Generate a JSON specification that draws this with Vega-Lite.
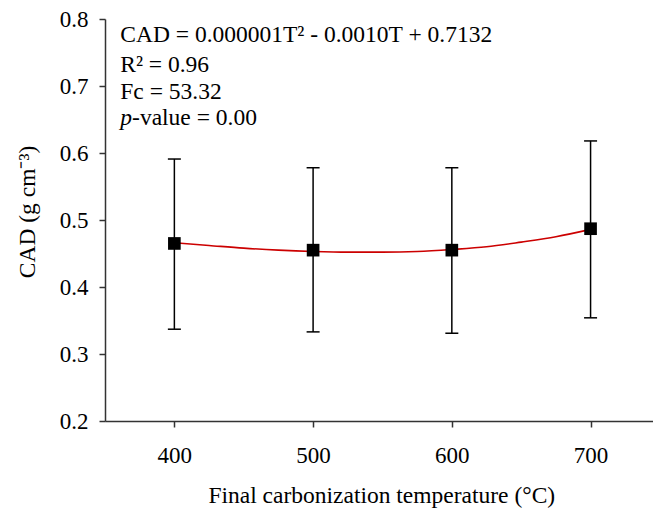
{
  "$schema": "https://vega.github.io/schema/vega-lite/v6.json",
  "autosize": {"type": "none"},
  "padding": {"left": 105, "top": 19, "right": 0, "bottom": 88},
  "width": 548,
  "height": 402,
  "background": "white",
  "config": {
    "view": {"stroke": null},
    "axis": {
      "labelFont": "Liberation Serif",
      "labelFontSize": 23,
      "labelColor": "black",
      "domainColor": "#333",
      "domainWidth": 1.5,
      "tickColor": "#333",
      "tickWidth": 1.5,
      "tickSize": 6,
      "grid": false
    }
  },
  "datasets": {
    "obs": [
      {"T": 400, "CAD": 0.465, "lo": 0.337, "hi": 0.591},
      {"T": 500, "CAD": 0.455, "lo": 0.333, "hi": 0.578},
      {"T": 600, "CAD": 0.455, "lo": 0.331, "hi": 0.578},
      {"T": 700, "CAD": 0.487, "lo": 0.354, "hi": 0.618}
    ],
    "fit": [
      {"T": 400, "CAD": 0.466},
      {"T": 425, "CAD": 0.462},
      {"T": 450, "CAD": 0.458},
      {"T": 475, "CAD": 0.455},
      {"T": 500, "CAD": 0.453},
      {"T": 525, "CAD": 0.452},
      {"T": 550, "CAD": 0.452},
      {"T": 575, "CAD": 0.453},
      {"T": 600, "CAD": 0.456},
      {"T": 625, "CAD": 0.460},
      {"T": 650, "CAD": 0.467},
      {"T": 675, "CAD": 0.475},
      {"T": 700, "CAD": 0.486}
    ],
    "notes": [
      {"T": 361, "y": 0.7657, "txt": "CAD = 0.000001T² - 0.0010T + 0.7132"},
      {"T": 361, "y": 0.7209, "txt": "R² = 0.96"},
      {"T": 361, "y": 0.6806, "txt": "Fc = 53.32"},
      {"T": 369.5, "y": 0.6418, "txt": "-value = 0.00"}
    ],
    "italic": [
      {"T": 361, "y": 0.6418, "txt": "p"}
    ],
    "xtitle": [
      {"T": 549.5, "y": 0.088, "txt": "Final carbonization temperature (°C)"}
    ],
    "ytitle": [
      {"T": 294.5, "y": 0.512, "txt": "CAD (g cm⁻³)"}
    ]
  },
  "encoding": {
    "x": {"field": "T", "type": "quantitative",
          "scale": {"domain": [350, 745], "nice": false, "zero": false},
          "axis": {"values": [400, 500, 600, 700], "title": null, "labelPadding": 17, "labelFlush": false}}
  },
  "layer": [
    {
      "data": {"name": "obs"},
      "mark": {"type": "rule", "color": "black", "strokeWidth": 1.5},
      "encoding": {
        "y": {"field": "lo", "type": "quantitative",
              "scale": {"domain": [0.2, 0.8], "nice": false, "zero": false},
              "axis": {"values": [0.2, 0.3, 0.4, 0.5, 0.6, 0.7, 0.8], "format": ".1f", "title": null, "labelPadding": 11, "labelFlush": false}},
        "y2": {"field": "hi"}
      }
    },
    {
      "data": {"name": "obs"},
      "mark": {"type": "tick", "orient": "horizontal", "color": "black", "size": 13, "thickness": 1.5, "opacity": 1},
      "encoding": {
        "y": {"field": "lo", "type": "quantitative"}
      }
    },
    {
      "data": {"name": "obs"},
      "mark": {"type": "tick", "orient": "horizontal", "color": "black", "size": 13, "thickness": 1.5, "opacity": 1},
      "encoding": {
        "y": {"field": "hi", "type": "quantitative"}
      }
    },
    {
      "data": {"name": "fit"},
      "mark": {"type": "line", "color": "#cc0000", "strokeWidth": 1.6, "interpolate": "monotone"},
      "encoding": {
        "y": {"field": "CAD", "type": "quantitative"}
      }
    },
    {
      "data": {"name": "obs"},
      "mark": {"type": "point", "shape": "square", "filled": true, "color": "black", "opacity": 1, "size": 160},
      "encoding": {
        "y": {"field": "CAD", "type": "quantitative"}
      }
    },
    {
      "data": {"name": "notes"},
      "mark": {"type": "text", "align": "left", "baseline": "alphabetic", "fontSize": 23.5, "font": "Liberation Serif", "color": "black"},
      "encoding": {
        "y": {"field": "y", "type": "quantitative"},
        "text": {"field": "txt"}
      }
    },
    {
      "data": {"name": "italic"},
      "mark": {"type": "text", "align": "left", "baseline": "alphabetic", "fontSize": 23.5, "font": "Liberation Serif", "fontStyle": "italic", "color": "black"},
      "encoding": {
        "y": {"field": "y", "type": "quantitative"},
        "text": {"field": "txt"}
      }
    },
    {
      "data": {"name": "xtitle"},
      "mark": {"type": "text", "align": "center", "baseline": "middle", "fontSize": 23.5, "font": "Liberation Serif", "color": "black"},
      "encoding": {
        "y": {"field": "y", "type": "quantitative"},
        "text": {"field": "txt"}
      }
    },
    {
      "data": {"name": "ytitle"},
      "mark": {"type": "text", "align": "center", "baseline": "middle", "angle": 270, "fontSize": 23.5, "font": "Liberation Serif", "color": "black"},
      "encoding": {
        "y": {"field": "y", "type": "quantitative"},
        "text": {"field": "txt"}
      }
    }
  ]
}
